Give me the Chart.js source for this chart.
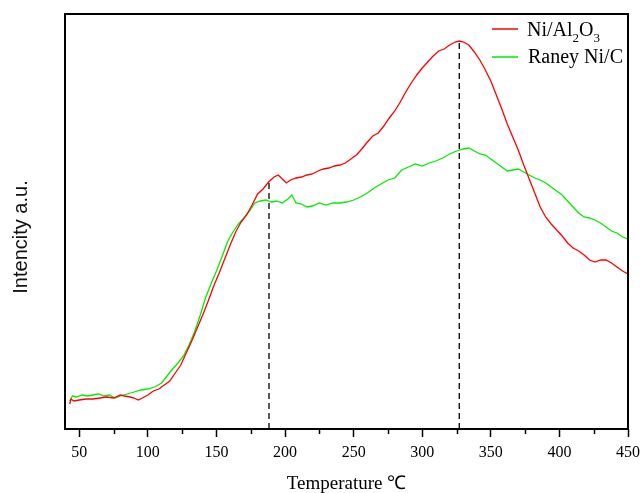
<!DOCTYPE html>
<html>
<head>
<meta charset="utf-8">
<script src="https://cdn.jsdelivr.net/npm/chart.js@4/dist/chart.umd.min.js"></script>
<style>
  html, body { margin: 0; padding: 0; background: #fff; }
  canvas { display: block; }
</style>
</head>
<body>
<canvas id="tprChart" width="641" height="493"></canvas>
<script>
// temperature (℃) and intensity (a.u.)
const niAlTemp = [43, 44, 46, 50, 55, 60, 65, 70, 75, 80, 83, 87, 90, 93, 96, 100, 104, 108, 112, 116,
  120, 124, 128, 132, 136, 140, 144, 148, 152, 156, 160, 164, 168, 172, 176, 180, 184, 188, 192, 195,
  198, 201, 204, 208, 212, 216, 220, 224, 228, 232, 236, 240, 244, 248, 252, 256, 260, 264, 268, 272,
  276, 280, 284, 288, 292, 296, 300, 304, 308, 312, 316, 320, 324, 327, 330, 334, 338, 342, 346, 350,
  354, 358, 362, 366, 370, 374, 378, 382, 386, 390, 394, 398, 402, 406, 410, 414, 418, 422, 426, 430,
  434, 438, 442, 446, 450];
const niAlValues = [25, 30, 28, 29, 30, 30, 31, 32, 31, 34, 33, 32, 31, 29, 31, 34, 38, 40, 44, 48,
  56, 64, 76, 88, 101, 114, 128, 143, 156, 170, 184, 197, 207, 214, 224, 235, 240, 247, 252, 254,
  250, 246, 249, 251, 252, 254, 255, 258, 260, 261, 263, 264, 266, 270, 274, 280, 287, 293, 296, 303,
  311, 318, 327, 337, 346, 354, 361, 367, 373, 378, 380, 384, 387, 388, 387, 384, 377, 369, 359, 348,
  334, 320, 305, 292, 279, 264, 250, 236, 222, 212, 205, 199, 193, 186, 181, 178, 174, 169, 167, 169,
  169, 166, 162, 158, 155];

const raneyTemp = [43, 45, 48, 52, 56, 60, 64, 68, 72, 76, 80, 85, 90, 95, 100, 105, 110, 114, 118, 122,
  126, 130, 134, 138, 142, 146, 150, 154, 158, 162, 166, 170, 174, 178, 182, 186, 190, 194, 198, 202,
  205, 208, 212, 216, 220, 225, 230, 235, 240, 245, 250, 255, 260, 265, 270, 275, 280, 285, 290, 295,
  300, 305, 310, 315, 320, 325, 330, 334, 338, 342, 346, 350, 354, 358, 362, 366, 370, 374, 378, 382,
  386, 390, 394, 398, 402, 406, 410, 414, 418, 422, 426, 430, 434, 438, 442, 446, 450];
const raneyValues = [28, 33, 32, 34, 33, 34, 35, 33, 34, 31, 33, 35, 37, 39, 40, 42, 46, 53, 60, 66,
  73, 84, 97, 113, 131, 145, 158, 172, 187, 197, 205, 211, 218, 226, 228, 229, 227, 228, 226, 230,
  234, 226, 225, 222, 223, 226, 224, 226, 226, 227, 229, 232, 236, 241, 245, 249, 251, 259, 262, 265,
  263, 266, 268, 271, 275, 278, 280, 281, 278, 275, 274, 270, 266, 262, 258, 259, 260, 257, 254, 251,
  249, 246, 242, 238, 234, 228, 222, 216, 212, 211, 209, 206, 202, 198, 196, 192, 190];

const peakTemps = [188.3, 327];
const peakTops = [247, 388];
const xTicks = [50, 100, 150, 200, 250, 300, 350, 400, 450];
const xMinorTicks = [75, 125, 175, 225, 275, 325, 375, 425];

function toPoints(xs, ys) {
  return xs.map((x, i) => ({ x: x, y: ys[i] }));
}

// frame, minor ticks, y title and legend drawn on the canvas
const extrasPlugin = {
  id: "extras",
  afterDraw(chart) {
    const ctx = chart.ctx;
    const a = chart.chartArea;
    const xs = chart.scales.x;
    ctx.save();
    ctx.strokeStyle = "#000";
    ctx.lineWidth = 2;
    ctx.strokeRect(a.left, a.top, a.right - a.left, a.bottom - a.top);

    ctx.lineWidth = 1.5;
    ctx.beginPath();
    xMinorTicks.forEach((v) => {
      const px = Math.round(xs.getPixelForValue(v)) + 0.5;
      ctx.moveTo(px, a.bottom);
      ctx.lineTo(px, a.bottom + 5);
    });
    ctx.stroke();

    ctx.fillStyle = "#111";
    ctx.font = "20px 'Liberation Sans', Arial, sans-serif";
    ctx.textAlign = "center";
    ctx.textBaseline = "middle";
    ctx.translate(21, 237);
    ctx.rotate(-Math.PI / 2);
    ctx.fillText("Intencity a.u.", 0, 0);
    ctx.restore();

    ctx.save();
    ctx.lineWidth = 1.5;
    ctx.strokeStyle = "#ff0000";
    ctx.beginPath();
    ctx.moveTo(492, 29);
    ctx.lineTo(518, 29);
    ctx.stroke();
    ctx.strokeStyle = "#00ee00";
    ctx.beginPath();
    ctx.moveTo(492, 57);
    ctx.lineTo(518, 57);
    ctx.stroke();

    ctx.fillStyle = "#000";
    ctx.textAlign = "left";
    ctx.textBaseline = "alphabetic";
    const big = "20px 'Liberation Serif', 'Times New Roman', serif";
    const small = "13px 'Liberation Serif', 'Times New Roman', serif";
    let x = 527;
    const parts = [["Ni/Al", big, 0], ["2", small, 6], ["O", big, 0], ["3", small, 6]];
    parts.forEach((p) => {
      ctx.font = p[1];
      ctx.fillText(p[0], x, 36 + p[2]);
      x += ctx.measureText(p[0]).width;
    });
    ctx.font = big;
    ctx.fillText("Raney Ni/C", 528, 63);
    ctx.restore();
  },
};

const ctx = document.getElementById("tprChart").getContext("2d");
new Chart(ctx, {
  type: "line",
  data: {
    datasets: [
      {
        label: "Ni/Al2O3",
        data: toPoints(niAlTemp, niAlValues),
        borderColor: "#ff0000",
        borderWidth: 1.3,
        pointRadius: 0,
        tension: 0,
      },
      {
        label: "Raney Ni/C",
        data: toPoints(raneyTemp, raneyValues),
        borderColor: "#00ee00",
        borderWidth: 1.3,
        pointRadius: 0,
        tension: 0,
      },
      {
        label: "peak1",
        data: [{ x: peakTemps[0], y: 0 }, { x: peakTemps[0], y: peakTops[0] }],
        borderColor: "#000",
        borderWidth: 1.3,
        borderDash: [6, 4],
        pointRadius: 0,
      },
      {
        label: "peak2",
        data: [{ x: peakTemps[1], y: 0 }, { x: peakTemps[1], y: peakTops[1] }],
        borderColor: "#000",
        borderWidth: 1.3,
        borderDash: [6, 4],
        pointRadius: 0,
      },
    ],
  },
  options: {
    responsive: false,
    animation: false,
    events: [],
    layout: { padding: { left: 0, top: 14, right: 13, bottom: 0 } },
    plugins: {
      legend: { display: false },
      tooltip: { enabled: false },
    },
    scales: {
      x: {
        type: "linear",
        min: 39.6,
        max: 450,
        afterFit: (scale) => {
          scale.height = 64;
          scale.paddingLeft = 0;
          scale.paddingRight = 0;
        },
        afterBuildTicks: (scale) => {
          scale.ticks = xTicks.map((v) => ({ value: v }));
        },
        border: { display: false },
        grid: {
          drawOnChartArea: false,
          drawTicks: true,
          tickLength: 8,
          tickColor: "#000",
          tickWidth: 1.5,
        },
        ticks: {
          color: "#000",
          padding: 6,
          maxRotation: 0,
          autoSkip: false,
          font: { family: "'Liberation Serif', 'Times New Roman', serif", size: 16 },
        },
        title: {
          display: true,
          text: "Temperature ℃",
          color: "#000",
          padding: 0,
          font: { family: "'Liberation Serif', 'Times New Roman', serif", size: 19, lineHeight: 0.9 },
        },
      },
      y: {
        min: 0,
        max: 415,
        afterFit: (scale) => { scale.width = 65; },
        border: { display: false },
        grid: { display: false },
        ticks: { display: false },
      },
    },
  },
  plugins: [extrasPlugin],
});
</script>
</body>
</html>
